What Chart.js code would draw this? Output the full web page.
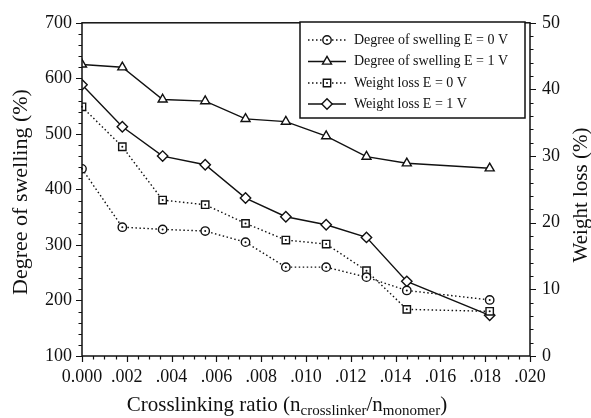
<!DOCTYPE html>
<html><head><meta charset="utf-8">
<script src="https://cdn.jsdelivr.net/npm/chart.js@4.4.0/dist/chart.umd.min.js"></script>
<style>html,body{margin:0;padding:0;background:#fff}#wrap{width:591px;height:418px;position:relative}</style>
</head><body><div id="wrap"><canvas id="c" width="591" height="418"></canvas></div>
<script>
// ---- data ----
const crosslinkRatio = [0, 0.0018, 0.0036, 0.0055, 0.0073, 0.0091, 0.0109, 0.0127, 0.0145, 0.0182];
const swelling0V   = [437, 332, 328, 325, 305, 260, 260, 242, 218, 201];
const swelling1V   = [625, 620, 562, 559, 527, 522, 496, 459, 447, 438];
const weightLoss0V = [37.4, 31.4, 23.4, 22.7, 19.9, 17.4, 16.8, 12.8, 7.0, 6.7];
const weightLoss1V = [40.7, 34.4, 30.0, 28.7, 23.7, 20.9, 19.7, 17.8, 11.2, 6.1];
const seriesLabels = ['Degree of swelling E = 0 V', 'Degree of swelling E = 1 V', 'Weight loss E = 0 V', 'Weight loss E = 1 V'];
const xTickLabels = ['0.000', '.002', '.004', '.006', '.008', '.010', '.012', '.014', '.016', '.018', '.020'];
const yLeftTitle = 'Degree of swelling (%)';
const yRightTitle = 'Weight loss (%)';

const FONT = '"Liberation Serif", "DejaVu Serif", serif';
const INK = '#111';
const pts = arr => arr.map((v, i) => ({x: crosslinkRatio[i], y: v}));

const styles = [
  {pointStyle: 'circle', radius: 4.2, dash: [1.5, 2.5], axis: 'y', data: swelling0V, dot: true},
  {pointStyle: 'triangle', radius: 5.2, dash: [], axis: 'y', data: swelling1V},
  {pointStyle: 'rect', radius: 5.2, dash: [1.5, 2.5], axis: 'y1', data: weightLoss0V, dot: true},
  {pointStyle: 'rectRot', radius: 5.2, dash: [], axis: 'y1', data: weightLoss1V}
];

const datasets = styles.map((s, i) => ({
  label: seriesLabels[i],
  data: pts(s.data),
  yAxisID: s.axis,
  borderColor: INK,
  borderWidth: 1.4,
  borderDash: s.dash,
  pointStyle: s.pointStyle,
  pointRadius: s.radius,
  pointBorderWidth: 1.4,
  pointBackgroundColor: '#fff',
  pointBorderColor: INK,
  fill: false,
  tension: 0
}));

const decor = {
  id: 'decor',
  afterDatasetsDraw(chart) {
    const ctx = chart.ctx;
    ctx.save();
    ctx.fillStyle = INK;
    styles.forEach((s, i) => {
      if (!s.dot) return;
      chart.getDatasetMeta(i).data.forEach(el => {
        ctx.beginPath(); ctx.arc(el.x, el.y, 1, 0, Math.PI * 2); ctx.fill();
      });
    });
    ctx.restore();
  },
  afterDraw(chart) {
    const ctx = chart.ctx;
    const a = chart.chartArea;
    const sx = chart.scales.x, sy = chart.scales.y, sy1 = chart.scales.y1;
    ctx.save();
    ctx.strokeStyle = INK; ctx.fillStyle = INK;
    ctx.lineWidth = 1.5;
    ctx.strokeRect(a.left, a.top, a.right - a.left, a.bottom - a.top);
    ctx.lineWidth = 1.2;
    ctx.beginPath();
    for (let v = 100; v <= 700; v += 20) {
      const p = Math.round(sy.getPixelForValue(v)) + 0.5;
      const len = (v % 100 === 0) ? 6 : 3.5;
      ctx.moveTo(a.left, p); ctx.lineTo(a.left - len, p);
    }
    for (let v = 0; v <= 50; v += 2) {
      const p = Math.round(sy1.getPixelForValue(v)) + 0.5;
      const len = (v % 10 === 0) ? 6 : 3.5;
      ctx.moveTo(a.right, p); ctx.lineTo(a.right + len, p);
    }
    for (let k = 0; k <= 40; k++) {
      const p = Math.round(sx.getPixelForValue(k * 0.0005)) + 0.5;
      const len = (k % 4 === 0) ? 6 : 3.5;
      ctx.moveTo(p, a.bottom); ctx.lineTo(p, a.bottom + len);
    }
    ctx.stroke();

    // axis titles
    ctx.textAlign = 'center'; ctx.textBaseline = 'middle';
    ctx.font = '22px ' + FONT;
    ctx.save(); ctx.translate(21, 192); ctx.rotate(-Math.PI / 2); ctx.fillText(yLeftTitle, 0, 0); ctx.restore();
    ctx.font = '21px ' + FONT;
    ctx.save(); ctx.translate(581, 195); ctx.rotate(-Math.PI / 2); ctx.fillText(yRightTitle, 0, 0); ctx.restore();

    // x title with subscripts
    const parts = [['Crosslinking ratio (n', 21, 0], ['crosslinker', 15, 4], ['/n', 21, 0], ['monomer', 15, 4], [')', 21, 0]];
    let total = 0;
    parts.forEach(p => { ctx.font = p[1] + 'px ' + FONT; total += ctx.measureText(p[0]).width; });
    let x = 287 - total / 2;
    ctx.textAlign = 'left'; ctx.textBaseline = 'alphabetic';
    parts.forEach(p => { ctx.font = p[1] + 'px ' + FONT; ctx.fillText(p[0], x, 411 + p[2]); x += ctx.measureText(p[0]).width; });

    // legend
    const lx = 300, ly = 22, lw = 225, lh = 96;
    ctx.fillStyle = '#fff';
    ctx.fillRect(lx, ly, lw, lh);
    ctx.lineWidth = 1.5; ctx.strokeStyle = INK;
    ctx.strokeRect(lx, ly, lw, lh);
    const rows = [40, 61.5, 83, 104];
    styles.forEach((s, i) => {
      const y = rows[i];
      ctx.lineWidth = 1.4; ctx.setLineDash(s.dash);
      ctx.beginPath(); ctx.moveTo(308, y); ctx.lineTo(346, y); ctx.stroke();
      ctx.setLineDash([]);
      ctx.fillStyle = '#fff';
      Chart.helpers.drawPoint(ctx, {pointStyle: s.pointStyle, radius: s.radius, rotation: 0, borderWidth: 1.4}, 327, y);
      if (s.dot) { ctx.fillStyle = INK; ctx.beginPath(); ctx.arc(327, y, 1, 0, Math.PI * 2); ctx.fill(); }
      ctx.fillStyle = INK;
      ctx.font = '14px ' + FONT; ctx.textAlign = 'left'; ctx.textBaseline = 'middle';
      ctx.fillText(seriesLabels[i], 354, y);
    });
    ctx.restore();
  }
};

new Chart(document.getElementById('c'), {
  type: 'line',
  data: {datasets},
  options: {
    responsive: false, animation: false, devicePixelRatio: 1,
    layout: {padding: {top: 20, left: 0, right: 0, bottom: 0}},
    plugins: {legend: {display: false}, tooltip: {enabled: false}},
    scales: {
      x: {
        type: 'linear', min: 0, max: 0.02,
        grid: {display: false, drawTicks: false}, border: {display: false},
        ticks: {stepSize: 0.002, autoSkip: false, maxRotation: 0, padding: 10, color: INK, font: {family: FONT, size: 18},
          callback: v => xTickLabels[Math.round(v / 0.002)]},
        afterFit(s) { s.height = 62; }
      },
      y: {
        position: 'left', min: 100, max: 700,
        grid: {display: false, drawTicks: false}, border: {display: false},
        ticks: {stepSize: 100, padding: 10, color: INK, font: {family: FONT, size: 18}},
        afterFit(s) { s.width = 82; }
      },
      y1: {
        position: 'right', min: 0, max: 50,
        grid: {display: false, drawTicks: false}, border: {display: false},
        ticks: {stepSize: 10, padding: 12, color: INK, font: {family: FONT, size: 18}},
        afterFit(s) { s.width = 61; }
      }
    }
  },
  plugins: [decor]
});
</script></body></html>
